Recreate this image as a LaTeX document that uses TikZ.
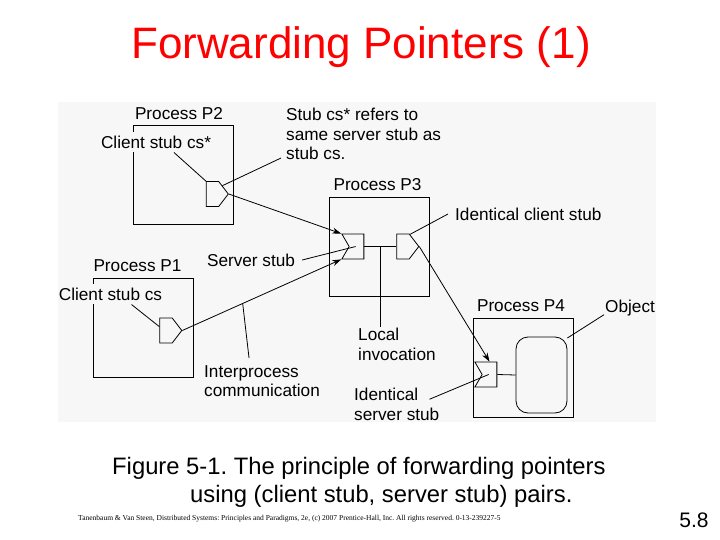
\documentclass[tikz,border=0pt]{standalone}
\usepackage{fontspec}
\setmainfont{Liberation Sans}
\newfontfamily\footserif{Liberation Serif}
\usetikzlibrary{positioning,shapes.symbols,arrows.meta}
\frenchspacing

\begin{document}
\begin{tikzpicture}[x=1pt,y=-1pt,
  every node/.style={font=\fontsize{17.2}{19.5}\selectfont,inner sep=1pt},
  proc/.style={draw,line width=.8pt,minimum width=100pt,minimum height=99pt,inner sep=0pt},
  cstub/.style={draw,line width=.8pt,signal,signal to=east,signal pointer angle=105,minimum width=22pt,minimum height=25pt,inner sep=0pt},
  sstub/.style={draw,line width=.8pt,signal,signal from=west,signal to=nowhere,signal pointer angle=120,minimum width=22pt,minimum height=25pt,inner sep=0pt},
  ln/.style={line width=.8pt},
  arr/.style={ln,-{Stealth[length=9pt,width=6pt]}},
  bg/.style={fill=black!3,inner ysep=4pt}]
\useasboundingbox (0,0) rectangle (720,540);
\fill[black!3] (58,102) rectangle (656,422);
\node (title) [text=red,font=\fontsize{44}{50}\selectfont] at (361,47) {Forwarding Pointers (1)};

\node (p2) [proc] at (183,175) {};
\node (p3) [proc] at (379.5,246.5) {};
\node (p1) [proc] at (143,327.5) {};
\node (p4) [proc] at (523,367.5) {};
\node (l2) [above=4.5pt of p2,xshift=-4pt] {Process P2};
\node (l3) [above=4.5pt of p3,xshift=-2pt] {Process P3};
\node (l1) [above=4.5pt of p1,xshift=-5.5pt] {Process P1};
\node (l4) [above=4.5pt of p4,xshift=-2pt] {Process P4};

\node (cs2) [cstub] at (212.5,194) {};
\node (cs1) [cstub] at (166,330.5) {};
\node (ss3) [sstub] at (356.5,246.5) {};
\node (cs3) [cstub] at (403,246.5) {};
\node (ss4) [sstub] at (489.5,374.5) {};
\node (obj) [draw,ln,rounded corners=12pt,minimum width=51pt,minimum height=76pt,inner sep=0pt] at (541.5,375) {};

\node (tcs2) [bg] at (156,142) {Client stub cs*};
\node (tcs1) [bg] at (110.5,294) {Client stub cs};
\node (tref) [align=left,anchor=north west] at (285,107) {Stub cs* refers to\\same server stub as\\stub cs.};
\node (tic) [anchor=west] at (454,214) {Identical client stub};
\node (tss) at (251,260) {Server stub};
\node (tli) [align=left,anchor=north west] at (357,327) {Local\\invocation};
\node (tip) [align=left,anchor=north west] at (203,364) {Interprocess\\communication};
\node (tob) [anchor=west] at (604,308.5) {Object};
\node (tis) [align=left,anchor=north west] at (353,387) {Identical\\server stub};

\draw[ln]([xshift=18pt]tcs2.south)--(cs2.north west);
\draw[ln]([xshift=-4pt,yshift=3pt]tref.south west)--(cs2.40);
\draw[arr](cs2.east)--(ss3.north west);
\draw[arr](cs1.east)--coordinate[pos=.38](ipc)(ss3.south west);
\draw[ln]([xshift=6pt]tss.east)--([xshift=7pt]ss3.west);
\draw[ln](ss3.east)--coordinate(m3)(cs3.west);
\draw[ln](m3)--(m3|-tli.north);
\draw[ln]([xshift=-6pt]tic.west)--(cs3.60);
\draw[arr](cs3.east)--(ss4.north);
\draw[ln]([xshift=21pt]tcs1.south)--(cs1.150);
\draw[ln]([xshift=-13pt,yshift=6pt]tip.north)--(ipc);
\draw[ln](ss4.east)--(obj.west);
\draw[ln]([yshift=3pt]tob.south west)--(obj.55);
\draw[ln]([xshift=-11pt,yshift=5pt]tis.east)--([xshift=7pt]ss4.west);

\node (cap) [anchor=west,align=left,font=\fontsize{23.8}{28}\selectfont] at (111,482) {Figure 5-1. The principle of forwarding pointers\\\hspace*{78pt}using (client stub, server stub) pairs.};
\node (foot) [anchor=west,font=\footserif\fontsize{7.5}{9}\selectfont] at (77,519) {Tanenbaum \& Van Steen, Distributed Systems: Principles and Paradigms, 2e, (c) 2007 Prentice-Hall, Inc. All rights reserved. 0-13-239227-5};
\node (pg) [font=\fontsize{21}{24}\selectfont] at (694,520) {5.8};
\end{tikzpicture}
\end{document}
